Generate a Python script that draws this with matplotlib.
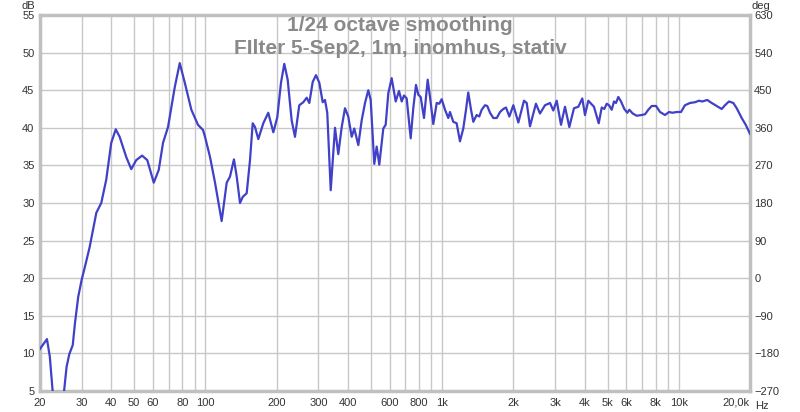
import matplotlib
matplotlib.use("Agg")
import matplotlib.pyplot as plt
from matplotlib.ticker import FixedLocator, NullFormatter, NullLocator


# ----------------------------------------------------
# Data
# ----------------------------------------------------

freq_hz = [
    20.0, 21.4, 22.0, 22.6, 23.6, 24.6, 25.3, 25.9, 26.6, 27.5, 28.1, 29.0,
    30.0, 30.9, 32.4, 34.6, 36.3, 38.1, 40.0, 41.8, 43.4, 46.3, 48.6, 51.0,
    54.0, 56.8, 60.5, 63.5, 66.2, 69.5, 74.2, 77.9, 81.8, 87.2, 93.0, 97.7,
    99.6, 104.6, 109.8, 117.1, 123.0, 127.0, 132.0, 135.6, 140.0, 143.7,
    149.4, 154.3, 158.4, 162.0, 167.3, 175.6, 184.3, 193.6, 201.2, 208.6,
    215.4, 222.6, 231.4, 239.0, 249.2, 259.2, 267.8, 274.8, 284.0, 293.2,
    302.8, 313.0, 320.0, 327.2, 338.4, 347.0, 352.8, 364.2, 376.6, 388.8,
    401.4, 415.0, 425.6, 442.6, 457.4, 472.4, 487.8, 499.2, 517.0, 529.2,
    542.8, 564.4, 577.6, 592.6, 612.4, 636.8, 657.6, 675.2, 690.2, 708.6,
    736.8, 755.6, 775.8, 793.2, 812.0, 838.6, 869.2, 889.0, 918.0, 949.0,
    973.0, 996.0, 1029, 1062, 1080, 1115, 1152, 1190, 1229, 1262, 1290,
    1325, 1355, 1400, 1436, 1470, 1518, 1552, 1594, 1646, 1702, 1757, 1814,
    1862, 1924, 2000, 2100, 2218, 2278, 2352, 2492, 2592, 2722, 2858, 2950,
    3050, 3180, 3306, 3448, 3608, 3764, 3912, 4016, 4148, 4382, 4590, 4726,
    4846, 4962, 5074, 5208, 5326, 5430, 5554, 5702, 5888, 6062, 6182, 6390,
    6642, 6974, 7202, 7436, 7688, 8016, 8334, 8750, 9096, 9392, 9804, 10218,
    10624, 11156, 11712, 12176, 12574, 13198, 13776, 14462, 15184, 15680,
    16304, 17000, 17574, 18450, 19182, 20000,
]

spl_db = [
    10.6, 11.9, 9.6, 5.1, 1.0, 2.5, 5.1, 8.2, 9.9, 11.1, 14.0, 17.5,
    19.8, 21.4, 24.1, 28.7, 30.0, 33.1, 38.0, 39.8, 38.8, 36.1, 34.5, 35.7,
    36.3, 35.7, 32.7, 34.4, 38.0, 40.1, 45.4, 48.6, 46.0, 42.4, 40.4, 39.7,
    38.8, 36.1, 32.7, 27.6, 32.7, 33.5, 35.8, 33.5, 30.0, 30.8,
    31.3, 35.7, 40.6, 40.1, 38.5, 40.6, 42.0, 39.4, 41.4, 46.0,
    48.5, 46.4, 41.0, 38.8, 43.0, 43.4, 44.0, 43.3, 46.1, 47.0,
    46.0, 43.4, 43.7, 42.0, 31.7, 36.6, 40.0, 36.5, 40.1, 42.6,
    41.5, 38.8, 39.9, 37.7, 41.0, 43.3, 45.0, 43.7, 35.2, 37.5,
    35.1, 39.9, 40.4, 44.6, 46.6, 43.5, 44.9, 43.5, 44.3, 43.9,
    38.6, 42.6, 45.7, 44.4, 44.1, 41.3, 46.4, 44.1, 40.5, 43.3,
    43.2, 43.8, 42.4, 41.3, 42.1, 40.8, 40.6, 38.2, 39.9, 42.4, 44.7,
    42.4, 40.8, 41.7, 41.5, 42.4, 43.0, 42.9, 42.0, 41.3, 41.3, 42.1, 42.5,
    42.7, 41.5, 43.0, 40.7, 43.6, 43.3, 40.2, 43.2, 41.9, 43.0, 43.3, 42.3,
    43.6, 40.4, 42.8, 40.1, 42.6, 42.8, 43.9, 41.7, 43.6, 42.8, 40.6, 42.7,
    42.5, 43.2, 43.0, 42.4, 43.5, 43.3, 44.1, 43.5, 42.5, 42.0, 42.4, 41.9,
    41.6, 41.7, 41.8, 42.4, 42.9, 42.9, 42.1, 41.7, 42.1, 42.0, 42.1, 42.1,
    43.0, 43.3, 43.4, 43.6, 43.5, 43.7, 43.3, 42.9, 42.5, 43.0,
    43.5, 43.3, 42.6, 41.3, 40.4, 39.2,
]

x_ticks = [20, 30, 40, 50, 60, 80, 100, 200, 300, 400, 600, 800,
           1000, 2000, 3000, 4000, 5000, 6000, 8000, 10000, 20000]
x_tick_labels = ["20", "30", "40", "50", "60", "80", "100", "200", "300",
                 "400", "600", "800", "1k", "2k", "3k", "4k", "5k",
                 "6k", "8k", "10k", "20,0k"]
x_grid = ([20, 30, 40, 50, 60, 70, 80, 90] +
          [100, 200, 300, 400, 500, 600, 700, 800, 900] +
          [1000, 2000, 3000, 4000, 5000, 6000, 7000, 8000, 9000] +
          [10000, 20000])

db_ticks = [5, 10, 15, 20, 25, 30, 35, 40, 45, 50, 55]
deg_ticks = [-270, -180, -90, 0, 90, 180, 270, 360, 450, 540, 630]

title_lines = ["1/24 octave smoothing", "FIlter 5-Sep2, 1m, inomhus, stativ"]

# ----------------------------------------------------
# Figure
# ----------------------------------------------------

plt.rcParams["font.family"] = ["Liberation Sans", "DejaVu Sans"]

fig = plt.figure(figsize=(8.0, 4.12), dpi=100)
ax = fig.add_axes([0.05, 0.051, 0.8875, 0.9126])

grid_col = "#c8c8c8"
text_col = "#333333"
fs = 8

for f in x_grid:
    ax.axvline(f, color=grid_col, lw=1.0, zorder=1)
for d in db_ticks:
    ax.axhline(d, color=grid_col, lw=1.0, zorder=1)

ax.plot(freq_hz, spl_db, color="#4040c8", lw=1.6, zorder=3,
        solid_joinstyle="round")

ax.set_xscale("log")
ax.set_xlim(20, 20000)
ax.set_ylim(5, 55)

ax.xaxis.set_major_locator(FixedLocator(x_ticks))
ax.xaxis.set_minor_locator(NullLocator())
ax.xaxis.set_minor_formatter(NullFormatter())
ax.set_xticklabels(x_tick_labels)
ax.get_xticklabels()[-1].set_horizontalalignment("right")
ax.set_yticks(db_ticks)
ax.tick_params(axis="both", length=0, labelsize=fs, labelcolor=text_col,
               pad=4)
ax.tick_params(axis="x", pad=5)

for s in ax.spines.values():
    s.set_color("#c0c0c0")
    s.set_linewidth(2.5)

ax2 = ax.twinx()
ax2.set_ylim(-270, 630)
ax2.set_yticks(deg_ticks)
ax2.tick_params(axis="y", length=0, labelsize=fs, labelcolor=text_col,
                pad=3)
for s in ax2.spines.values():
    s.set_visible(False)

# axis unit labels
fig.text(0.027, 0.997, "dB", fontsize=fs, color=text_col,
         ha="left", va="top")
fig.text(0.940, 0.997, "deg", fontsize=fs, color=text_col,
         ha="left", va="top")
fig.text(0.944, 0.003, "Hz", fontsize=fs, color=text_col,
         ha="left", va="bottom")

# title
fig.text(0.5, 0.938, title_lines[0], fontsize=15, fontweight="bold",
         color="#8a8a8a", ha="center", va="center")
fig.text(0.5, 0.883, title_lines[1], fontsize=15, fontweight="bold",
         color="#8a8a8a", ha="center", va="center")

fig.savefig("out.png", dpi=100)
plt.close(fig)
